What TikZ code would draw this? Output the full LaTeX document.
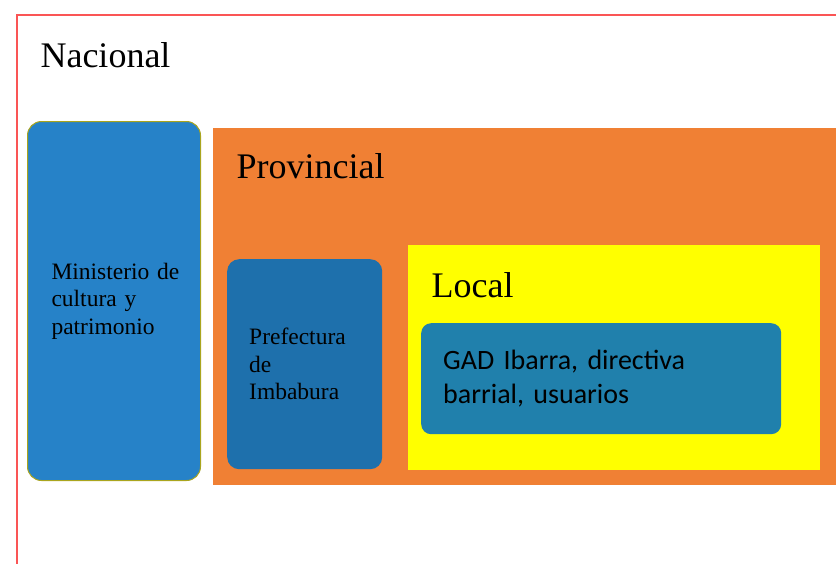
\documentclass[tikz,border=0pt]{standalone}
\usepackage{fontspec}
\setmainfont{Liberation Serif}
\newfontfamily\gadfont{Carlito}
\usetikzlibrary{calc}

\definecolor{nacred}{RGB}{250,85,85}
\definecolor{provorange}{RGB}{240,128,52}
\definecolor{localyellow}{RGB}{255,255,0}
\definecolor{minblue}{RGB}{38,130,200}
\definecolor{prefblue}{RGB}{30,112,172}
\definecolor{gadblue}{RGB}{32,128,172}
\definecolor{minborder}{RGB}{170,165,30}

\tikzset{
	level title/.style={anchor=base west, font=\fontsize{36}{40}\selectfont},
	level area/.style={anchor=north west, inner sep=0pt},
	entity/.style={anchor=north west, rounded corners=14pt, inner xsep=22pt, align=left, font=\fontsize{23.5}{27.5}\selectfont}
}

\begin{document}
\begin{tikzpicture}[x=1pt, y=-1pt]
		\useasboundingbox (0,0) rectangle (836,563);
		\clip (0,0) rectangle (836,563);
		\draw[nacred, line width=1.5pt] (17,15) rectangle (870,600);
		\draw (37,67) node[level title](nacional){Nacional};
		\draw (27,121) node[entity, fill=minblue, draw=minborder, line width=1pt, minimum width=173pt, minimum height=359pt, inner xsep=24pt, text width=125pt](ministerio){Ministerio~de\\cultura y\\patrimonio};
		\draw (213,128) node[level area, fill=provorange, minimum width=650pt, minimum height=357pt](provincial){};
		\draw (233,178) node[level title](provtitle){Provincial};
		\draw (227,259) node[entity, fill=prefblue, rounded corners=12pt, minimum width=155pt, minimum height=210pt, text width=111pt](prefectura){Prefectura\\de\\Imbabura};
		\draw (408,245) node[level area, fill=localyellow, minimum width=412pt, minimum height=225pt](local){};
		\draw (428,297) node[level title](localtitle){Local};
		\draw (421,323) node[entity, fill=gadblue, rounded corners=10pt, minimum width=360pt, minimum height=111pt, text width=316pt, font=\gadfont\fontsize{28}{34}\selectfont](gad){GAD Ibarra, directiva\\barrial, usuarios};
	\end{tikzpicture}
\end{document}
